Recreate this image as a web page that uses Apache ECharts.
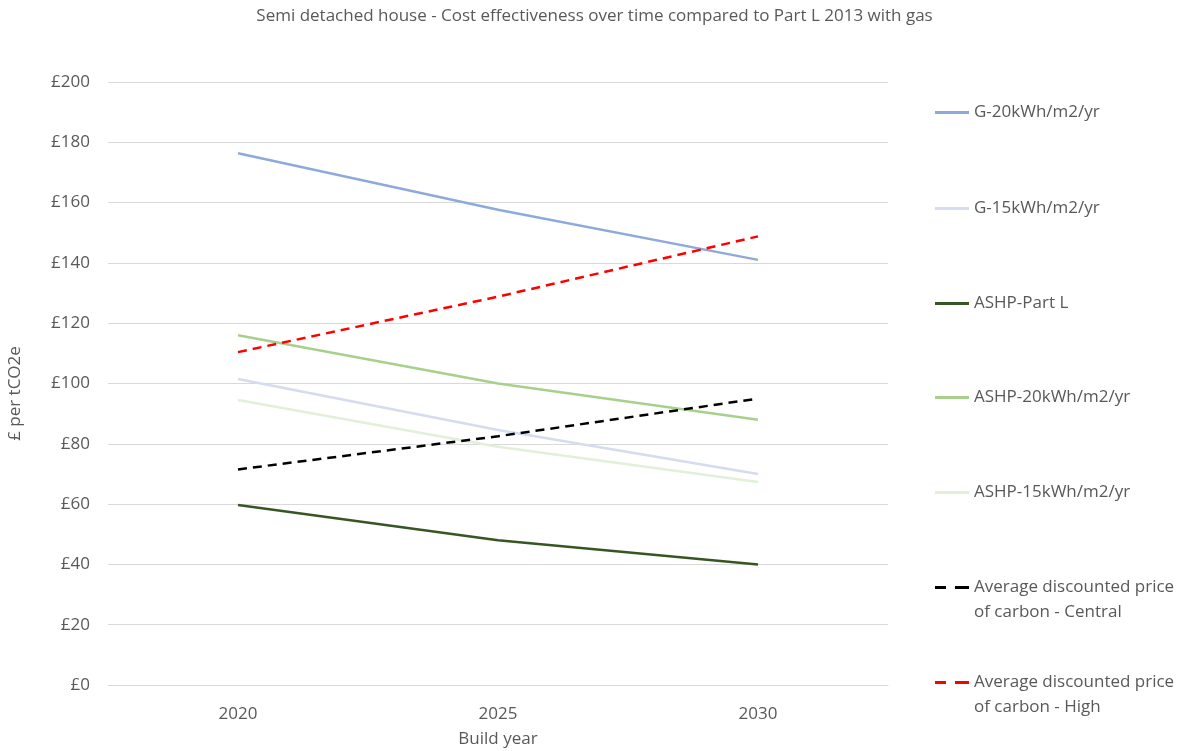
<!DOCTYPE html>
<html><head><meta charset="utf-8">
<script src="https://cdn.jsdelivr.net/npm/echarts@6/dist/echarts.min.js"></script>
<style>html,body{margin:0;padding:0;background:#fff}#c{width:1189px;height:751px}</style>
</head><body><div id="c"></div>
<script>
const years = ['2020', '2025', '2030'];
const g20 = [176.4, 157.6, 141.0];
const g15 = [101.5, 84.6, 70.0];
const ashpPartL = [59.7, 48.0, 40.0];
const ashp20 = [116.0, 100.0, 88.0];
const ashp15 = [94.5, 79.0, 67.3];
const carbonCentral = [71.5, 82.5, 95.0];
const carbonHigh = [110.4, 128.8, 148.8];
const yTicks = [0, 20, 40, 60, 80, 100, 120, 140, 160, 180, 200];

const names = ['G-20kWh/m2/yr','G-15kWh/m2/yr','ASHP-Part L','ASHP-20kWh/m2/yr','ASHP-15kWh/m2/yr',
  'Average discounted price\nof carbon - Central','Average discounted price\nof carbon - High'];
const datas = [g20, g15, ashpPartL, ashp20, ashp15, carbonCentral, carbonHigh];
const colors = ['#8eaadb','#d5dcef','#375623','#a8d08d','#e2efd9','#000000','#ff0000'];
const dashed = [false,false,false,false,false,true,true];
const legendTops = [99, 195, 290, 384, 479, 574, 669];

const font = 'Open Sans, Liberation Sans, sans-serif';
const grey = '#595959';
const solidIcon = 'path://M0,0H34V3H0Z';
const dashIcon = 'path://M0,0H11V3H0Z M20,0H34V3H20Z';

const graphics = [];
names.forEach((n, i) => {
  const parts = n.split('\n');
  if (parts.length > 1) {
    graphics.push({type: 'text', left: 974, top: legendTops[i] + 30,
      style: {text: parts[1], fill: grey, font: '17px ' + font}});
  }
});

const chart = echarts.init(document.getElementById('c'));
chart.setOption({
  animation: false,
  title: {text: 'Semi detached house - Cost effectiveness over time compared to Part L 2013 with gas',
    left: 'center', top: 3, textStyle: {fontFamily: font, fontSize: 17, fontWeight: 'normal', color: grey}},
  grid: {left: 108, right: 301, top: 82, bottom: 66, outerBoundsMode: 'none', containLabel: false},
  legend: names.map((n, i) => ({
    data: [n], orient: 'vertical', left: 930, top: legendTops[i], itemWidth: 34, itemHeight: 3,
    icon: dashed[i] ? dashIcon : solidIcon,
    formatter: name => name.split('\n')[0],
    textStyle: {fontFamily: font, fontSize: 17, color: grey}
  })),
  graphic: graphics,
  xAxis: {type: 'category', data: years, boundaryGap: true,
    name: 'Build year', nameLocation: 'middle', nameGap: 46,
    nameTextStyle: {fontFamily: font, fontSize: 17, color: grey},
    axisLine: {lineStyle: {color: '#d9d9d9', width: 1}}, axisTick: {show: false},
    axisLabel: {fontFamily: font, fontSize: 17, color: grey, margin: 21}},
  yAxis: {type: 'value', min: yTicks[0], max: yTicks[yTicks.length-1], interval: yTicks[1]-yTicks[0],
    name: '£ per tCO2e', nameLocation: 'middle', nameGap: 84,
    nameTextStyle: {fontFamily: font, fontSize: 17, color: grey, padding: [0, 20, 0, 0]},
    axisLine: {show: false}, axisTick: {show: false},
    splitLine: {lineStyle: {color: '#d9d9d9', width: 1}},
    axisLabel: {fontFamily: font, fontSize: 17, color: grey, margin: 18, formatter: v => '£' + v}},
  series: names.map((n, i) => ({
    name: n, type: 'line', data: datas[i], symbol: 'none', smooth: false,
    lineStyle: {color: colors[i], width: 2.5, type: dashed[i] ? [9, 6] : 'solid'},
    itemStyle: {color: colors[i]}
  }))
});
</script></body></html>
